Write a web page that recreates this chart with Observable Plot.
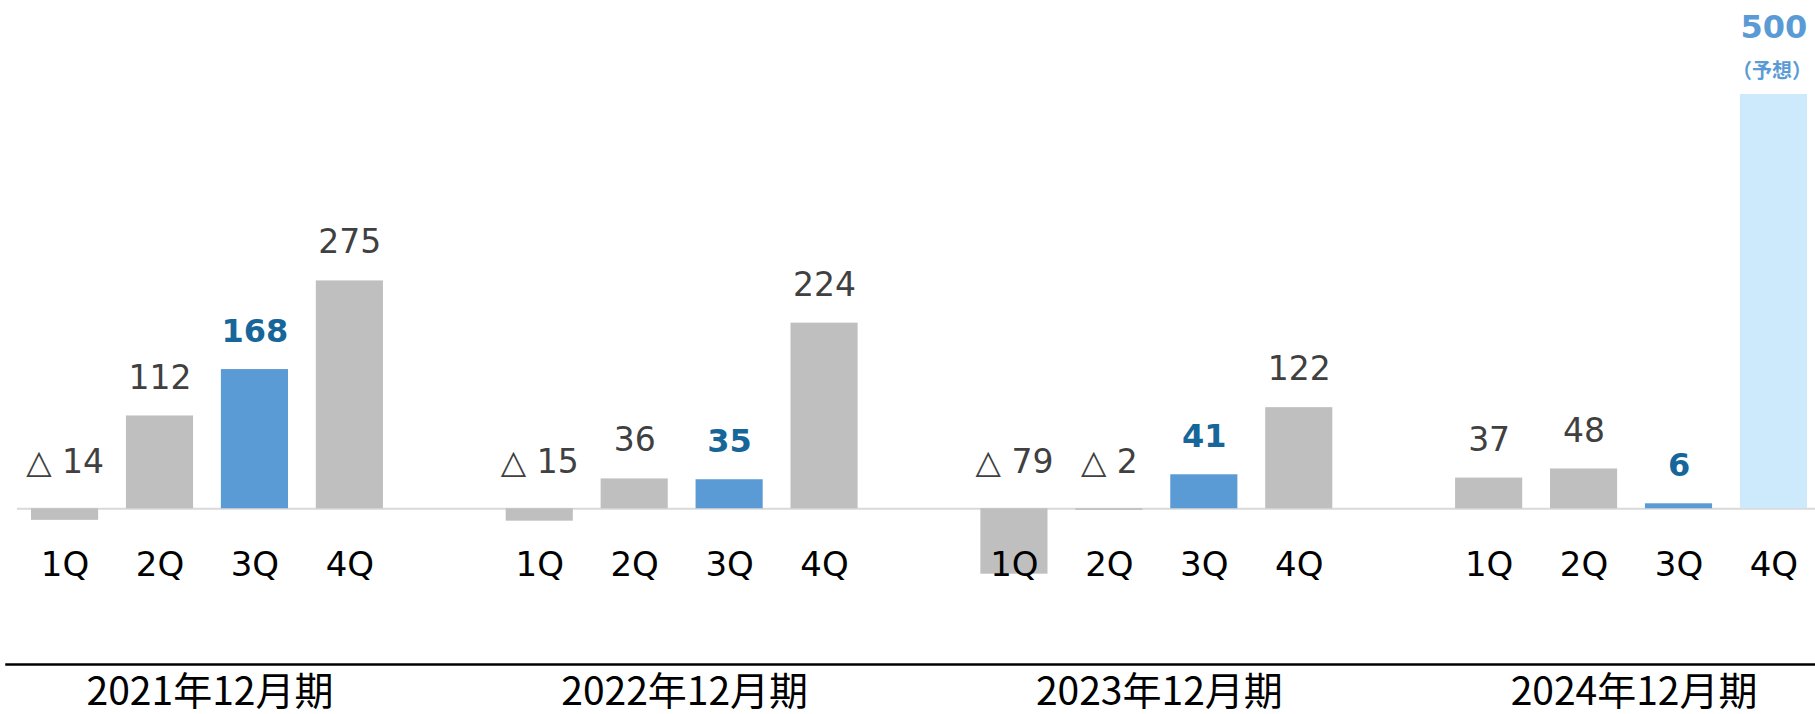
<!DOCTYPE html>
<html>
<head>
<meta charset="utf-8">
<script src="https://cdn.jsdelivr.net/npm/d3@7"></script>
<script src="https://cdn.jsdelivr.net/npm/@observablehq/plot@0.6"></script>
<style>
  html, body { margin: 0; padding: 0; background: #fff; }
  #chart svg { display: block; overflow: visible; }
</style>
</head>
<body>
<div id="chart"></div>
<script>
// ---- Data ----
const years = ["2021", "2022", "2023", "2024"];
const yearLabels = ["2021年12月期", "2022年12月期", "2023年12月期", "2024年12月期"];
const quarters = ["1Q", "2Q", "3Q", "4Q"];
const values2021 = [-14, 112, 168, 275];
const values2022 = [-15, 36, 35, 224];
const values2023 = [-79, -2, 41, 122];
const values2024 = [37, 48, 6, 500];
const forecastKeys = ["2024-4Q"];
const forecastNote = "（予想）";
const highlightQuarter = "3Q";

// ---- Build table ----
const seriesByYear = [values2021, values2022, values2023, values2024];
const rows = [];
const domainKeys = [];
years.forEach((y, gi) => {
  if (gi > 0) domainKeys.push("gap" + gi);
  quarters.forEach((q, qi) => {
    const key = `${y}-${q}`;
    domainKeys.push(key);
    const value = seriesByYear[gi][qi];
    const kind = forecastKeys.includes(key) ? "forecast" : (q === highlightQuarter ? "highlight" : "actual");
    rows.push({key, year: y, quarter: q, value, kind});
  });
});
const realKeys = rows.map(d => d.key);
const yearRows = years.map((y, i) => ({key: `${y}-2Q`, label: yearLabels[i]}));
const fmt = v => v < 0 ? `△ ${-v}` : `${v}`;

const numFont = "DejaVu Sans, Verdana, sans-serif";
const cjkFont = "Noto Sans CJK JP, sans-serif";

const chart = Plot.plot({
  width: 1815,
  height: 714,
  marginTop: 94,
  marginBottom: 50,
  marginLeft: 31,
  marginRight: 8,
  style: {background: "#fff", color: "#000"},
  x: {domain: domainKeys, paddingInner: 0.293, paddingOuter: 0, round: false, axis: null},
  y: {domain: [-188, 500], axis: null},
  color: {domain: ["actual", "highlight", "forecast"], range: ["#bfbfbf", "#5b9bd5", "#cdeafd"]},
  marks: [
    Plot.ruleY([0], {stroke: "#d9d9d9", strokeWidth: 2, insetLeft: -14, insetRight: -8}),
    Plot.barY(rows, {x: "key", y1: 0, y2: "value", fill: "kind"}),
    // value labels: positive, non-highlight, non-forecast
    Plot.text(rows.filter(d => d.value >= 0 && d.kind === "actual"), {
      x: "key", y: "value", text: d => fmt(d.value), dy: -38, lineAnchor: "middle",
      fontSize: 33, fontFamily: numFont, fill: "#404040"
    }),
    // negative labels sit above zero line
    Plot.text(rows.filter(d => d.value < 0), {
      x: "key", y: 0, text: d => fmt(d.value), dy: -46, lineAnchor: "middle",
      fontSize: 33, fontFamily: numFont, fill: "#404040"
    }),
    // highlighted 3Q labels
    Plot.text(rows.filter(d => d.kind === "highlight"), {
      x: "key", y: d => Math.max(d.value, 0), text: d => fmt(d.value), dy: -38, lineAnchor: "middle",
      fontSize: 32, fontWeight: "bold", fontFamily: numFont, fill: "#17669a"
    }),
    // forecast label
    Plot.text(rows.filter(d => d.kind === "forecast"), {
      x: "key", y: "value", text: d => fmt(d.value), dy: -67, lineAnchor: "middle",
      fontSize: 32, fontWeight: "bold", fontFamily: numFont, fill: "#5b9bd5"
    }),
    Plot.text(rows.filter(d => d.kind === "forecast"), {
      x: "key", y: "value", text: () => forecastNote, dx: -2, dy: -23, lineAnchor: "middle",
      fontSize: 20, fontWeight: "bold", fontFamily: cjkFont, fill: "#5b9bd5"
    }),
    // quarter axis
    Plot.axisX({
      ticks: realKeys, tickFormat: k => k.split("-")[1], tickSize: 0, tickPadding: 0,
      dy: -113, fontSize: 34, fontFamily: numFont, fill: "#000", label: null
    }),
    // bottom separator line
    Plot.frame({anchor: "bottom", stroke: "#000", strokeWidth: 2.5, insetLeft: -25, insetRight: -8}),
    // fiscal year labels
    Plot.text(yearRows, {
      x: "key", text: "label", frameAnchor: "bottom", dx: 50, dy: 28, lineAnchor: "middle",
      fontSize: 39, fontFamily: cjkFont, fill: "#000"
    })
  ]
});
document.getElementById("chart").append(chart);
</script>
</body>
</html>
